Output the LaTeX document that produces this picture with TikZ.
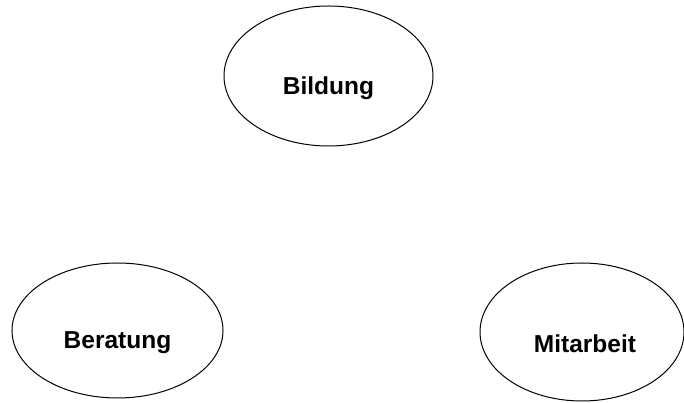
\documentclass[tikz,border=0pt]{standalone}
\usepackage{fontspec}
\setmainfont{Liberation Sans}
\usepackage{tikz}
\usetikzlibrary{positioning,shapes}

\begin{document}
\begin{tikzpicture}[x=1pt,y=1pt]
\useasboundingbox (0,0) rectangle (684,403);

% Bildung
\node [draw,
	ellipse,
	minimum width=209pt,
	minimum height=140pt,
	line width=1pt,
] at (328.5,327) (bildung) {};
\node [font=\fontsize{24.5}{29}\selectfont\bfseries,
	inner sep=0pt
] at ([yshift=-12pt] bildung.center) (bildungtext) {Bildung};

% Beratung
\node [draw,
	ellipse,
	minimum width=211pt,
	minimum height=135pt,
	line width=1pt,
] at (117.5,72.5) (beratung) {};
\node [font=\fontsize{24.5}{29}\selectfont\bfseries,
	inner sep=0pt
] at ([yshift=-12pt] beratung.center) (beratungtext) {Beratung};

% Mitarbeit
\node [draw,
	ellipse,
	minimum width=204pt,
	minimum height=138pt,
	line width=1pt,
] at (582,71) (mitarbeit) {};
\node [font=\fontsize{24.5}{29}\selectfont\bfseries,
	inner sep=0pt
] at ([xshift=3pt,yshift=-12pt] mitarbeit.center) (mitarbeittext) {Mitarbeit};

\end{tikzpicture}
\end{document}
